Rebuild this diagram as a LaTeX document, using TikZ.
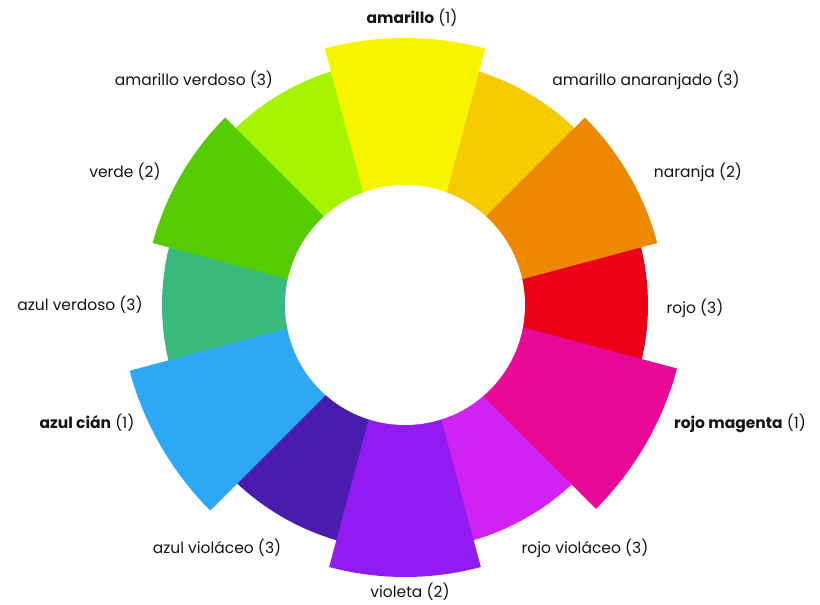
\documentclass[tikz,border=0pt]{standalone}
\usepackage{fontspec}
\setmainfont{Poppins}
\usetikzlibrary{calc}
\definecolor{cAm}{RGB}{248,244,0}
\definecolor{cAmAn}{RGB}{246,204,0}
\definecolor{cNar}{RGB}{238,136,0}
\definecolor{cRojo}{RGB}{236,0,22}
\definecolor{cRoMag}{RGB}{234,8,150}
\definecolor{cRoVio}{RGB}{208,34,242}
\definecolor{cVio}{RGB}{146,26,242}
\definecolor{cAzVio}{RGB}{72,28,172}
\definecolor{cAzCian}{RGB}{46,168,245}
\definecolor{cAzVer}{RGB}{58,186,122}
\definecolor{cVerde}{RGB}{84,204,0}
\definecolor{cAmVer}{RGB}{166,244,0}
\definecolor{txt}{RGB}{20,20,20}
\tikzset{lbl/.style={text=txt,font=\fontsize{15.5}{18}\selectfont,inner sep=0pt,anchor=center}}
% tertiary wedge: color, angle, radius
\newcommand\tertwedge[3]{\fill[#1] (C) -- ++(#2-15.5:#3) arc[start angle=#2-15.5, end angle=#2+15.5, radius=#3] -- cycle;}
% offset wedge: color, angle, offset, radius
\newcommand\offwedge[4]{\fill[#1] ($(C)+(#2+180:#3)$) -- ++(#2-15:#4) arc[start angle=#2-15, end angle=#2+15, radius=#4] -- cycle;}
\begin{document}
\begin{tikzpicture}[x=1pt,y=1pt]
\useasboundingbox (0,0) rectangle (820,605);
\fill[white] (0,0) rectangle (820,605);
\coordinate (C) at (405,300);
% tertiary
\tertwedge{cAmAn}{60}{245}
\tertwedge{cRojo}{0}{243}
\tertwedge{cRoVio}{-60}{245}
\tertwedge{cAzVio}{-120}{245}
\tertwedge{cAzVer}{180}{243}
\tertwedge{cAmVer}{120}{245}
% secondary
\offwedge{cNar}{30}{21}{280}
\offwedge{cVio}{-90}{21}{293}
\offwedge{cVerde}{150}{21}{280}
% primary
\offwedge{cAm}{90}{43}{310}
\offwedge{cRoMag}{-30}{35}{313}
\offwedge{cAzCian}{210}{30}{312}
% inner hole
\fill[white] (C) circle[radius=120];
% labels
\node[lbl] (lAm) at (412,587) {\textbf{amarillo} (1)};
\node[lbl] (lAmVer) at (194,525) {amarillo verdoso (3)};
\node[lbl] (lAmAn) at (646,525) {amarillo anaranjado (3)};
\node[lbl] (lVerde) at (125,433) {verde (2)};
\node[lbl] (lNar) at (698,433) {naranja (2)};
\node[lbl] (lAzVer) at (80,300) {azul verdoso (3)};
\node[lbl] (lRojo) at (695,297) {rojo (3)};
\node[lbl] (lAzCian) at (87,182) {\textbf{azul cián} (1)};
\node[lbl] (lRoMag) at (740,182) {\textbf{rojo magenta} (1)};
\node[lbl] (lAzVio) at (217,57) {azul violáceo (3)};
\node[lbl] (lRoVio) at (585,57) {rojo violáceo (3)};
\node[lbl] (lVio) at (410,13) {violeta (2)};
\end{tikzpicture}
\end{document}
